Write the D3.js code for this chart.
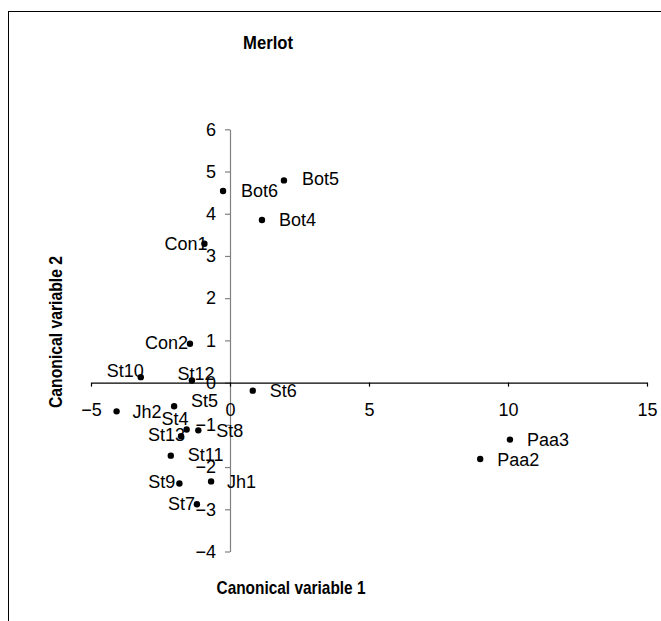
<!DOCTYPE html>
<html>
<head>
<meta charset="utf-8">
<script src="https://cdn.jsdelivr.net/npm/d3@7"></script>
<style>
  html, body { margin: 0; padding: 0; background: #fff; }
  svg { display: block; }
  text { font-family: "Liberation Sans", Arial, sans-serif; fill: #000; }
</style>
</head>
<body>
<svg id="chart" width="661" height="621"></svg>
<script>
// ---- data ----
const names = ["Bot5","Bot6","Bot4","Con1","Con2","St10","St12","St6","Jh2","St5","St4","St13","St8","St11","St9","Jh1","St7","Paa3","Paa2"];
const var1  = [1.94, -0.25, 1.15, -0.92, -1.44, -3.21, -1.37, 0.82, -4.08, -2.01, -1.56, -1.76, -1.14, -2.13, -1.82, -0.68, -1.19, 10.07, 9.00];
const var2  = [4.79, 4.54, 3.85, 3.29, 0.92, 0.13, 0.05, -0.19, -0.68, -0.56, -1.11, -1.27, -1.13, -1.73, -2.39, -2.34, -2.88, -1.35, -1.81];
const xTicks = [-5, 0, 5, 10, 15];
const yTicks = [-4, -3, -2, -1, 0, 1, 2, 3, 4, 5, 6];
const title = "Merlot";
const xTitle = "Canonical variable 1";
const yTitle = "Canonical variable 2";

// label placement (style, kept apart from data): [anchor, dx, dy]
const labelPlacement = {
  Bot5: ["start", 18, -2], Bot6: ["start", 18, 0], Bot4: ["start", 17, 0],
  Con1: ["end", 3, -0.5], Con2: ["end", -2, -1.5], St10: ["end", 3, -6],
  St12: ["middle", 4, -7], St6: ["start", 17, 0], Jh2: ["start", 16, 0],
  St5: ["start", 17, -6], St4: ["end", 2, -11], St13: ["end", 4, -2],
  St8: ["start", 18, 0], St11: ["start", 17, -1], St9: ["end", -4, -2],
  Jh1: ["start", 16, 0], St7: ["end", -2, -1], Paa3: ["start", 17, 0],
  Paa2: ["start", 17, 1]
};

const points = names.map((n, i) => ({ name: n, x: var1[i], y: var2[i] }));

const svg = d3.select("#chart");

// outer frame
svg.append("rect").attr("x", 8.5).attr("y", 11.5).attr("width", 700).attr("height", 700)
  .attr("fill", "none").attr("stroke", "#000").attr("stroke-width", 1);

const x = d3.scaleLinear().domain([-5, 15]).range([91, 647]);
const y = d3.scaleLinear().domain([-4, 6]).range([551.5, 129.3]);

// y axis (gray, at x=0)
const yAxis = d3.axisLeft(y).tickValues(yTicks).tickFormat(d3.format("d")).tickSizeInner(5).tickSizeOuter(0).tickPadding(9);
const gy = svg.append("g").attr("transform", `translate(${x(0)},0)`).call(yAxis);
gy.select(".domain").attr("stroke", "#808080").attr("stroke-width", 1.2);
gy.selectAll(".tick line").attr("stroke", "#808080").attr("stroke-width", 1.2);
gy.selectAll(".tick text").attr("font-size", 18).attr("fill", "#000")
  .attr("font-family", "Liberation Sans, Arial, sans-serif");

// x axis (black, at y=0)
const xAxis = d3.axisBottom(x).tickValues(xTicks).tickFormat(d3.format("d")).tickSizeInner(4).tickSizeOuter(0).tickPadding(17);
const gx = svg.append("g").attr("transform", `translate(0,${y(0)})`).call(xAxis);
gx.select(".domain").attr("stroke", "#000").attr("stroke-width", 1.2);
gx.selectAll(".tick line").attr("stroke", "#000").attr("stroke-width", 1.2);
gx.selectAll(".tick text").attr("font-size", 18).attr("fill", "#000")
  .attr("font-family", "Liberation Sans, Arial, sans-serif");

// points
svg.append("g").selectAll("circle").data(points).join("circle")
  .attr("cx", d => x(d.x)).attr("cy", d => y(d.y)).attr("r", 3.2).attr("fill", "#000");

// labels
svg.append("g").selectAll("text").data(points).join("text")
  .attr("x", d => x(d.x) + labelPlacement[d.name][1])
  .attr("y", d => y(d.y) + labelPlacement[d.name][2])
  .attr("dy", "0.35em")
  .attr("text-anchor", d => labelPlacement[d.name][0])
  .attr("font-size", 18)
  .text(d => d.name);

// titles
svg.append("text").attr("x", 268).attr("y", 42).attr("dy", "0.35em")
  .attr("text-anchor", "middle").attr("font-size", 19).attr("font-weight", "bold")
  .attr("textLength", 50).attr("lengthAdjust", "spacingAndGlyphs").text(title);

svg.append("text").attr("x", 291).attr("y", 587).attr("dy", "0.35em")
  .attr("text-anchor", "middle").attr("font-size", 19).attr("font-weight", "bold")
  .attr("textLength", 149).attr("lengthAdjust", "spacingAndGlyphs").text(xTitle);

svg.append("text").attr("transform", "translate(55,332) rotate(-90)").attr("dy", "0.35em")
  .attr("text-anchor", "middle").attr("font-size", 19).attr("font-weight", "bold")
  .attr("textLength", 152).attr("lengthAdjust", "spacingAndGlyphs").text(yTitle);
</script>
</body>
</html>
